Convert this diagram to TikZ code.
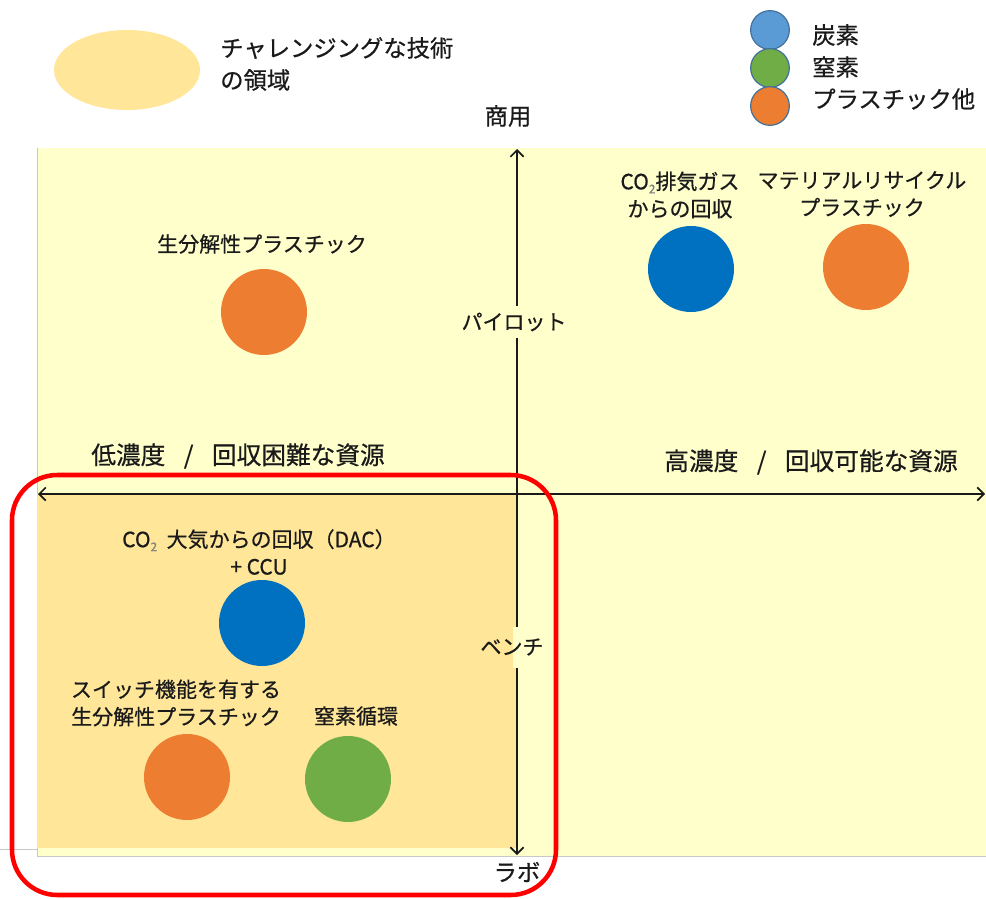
\documentclass[tikz,border=0pt]{standalone}
\usepackage{fontspec}
\setmainfont{Noto Sans CJK JP}[FakeBold=0.6]
\usetikzlibrary{arrows.meta,shapes.geometric}
\definecolor{bgyel}{HTML}{FFFFCC}
\definecolor{chal}{HTML}{FFE699}
\definecolor{cblue}{HTML}{0070C0}
\definecolor{lblue}{HTML}{5B9BD5}
\definecolor{corange}{HTML}{ED7D31}
\definecolor{cgreen}{HTML}{70AD47}
\definecolor{lborder}{HTML}{41719C}
\definecolor{txt}{HTML}{1A1A1A}
\definecolor{edgegray}{HTML}{C8C8C8}
\newcommand\mysubtwo{\raisebox{-0.35ex}{\fontsize{9pt}{9pt}\selectfont\color{gray}2}}
\newcommand\myslash{\hspace{0.75em}/\hspace{0.75em}}
\begin{document}
\begin{tikzpicture}[x=0.75pt,y=-0.75pt,
  lbl/.style={font=\fontsize{15.75pt}{20.5pt}\selectfont, text=txt, align=center, inner sep=0pt},
  midlbl/.style={font=\fontsize{17.5pt}{21pt}\selectfont, text=txt, align=center, inner sep=0pt},
  biglbl/.style={font=\fontsize{18.5pt}{22pt}\selectfont, text=txt, align=center, inner sep=0pt},
  leglbl/.style={font=\fontsize{17.5pt}{24pt}\selectfont, text=txt, align=left, inner sep=0pt, anchor=west},
  dot/.style={circle, minimum size=64.5pt, inner sep=0pt},
  ldot/.style={circle, minimum size=29pt, draw=lborder, line width=0.9pt, inner sep=0pt},
  axisline/.style={line width=1.3pt, draw=txt, {Straight Barb[length=5pt,width=10pt,line width=1.2pt]}-{Straight Barb[length=5pt,width=10pt,line width=1.2pt]}}
]
\useasboundingbox (0,0) rectangle (986,899);
\fill[white] (0,0) rectangle (986,899);
% plot background
\fill[bgyel] (37,148) rectangle (986,856);
\draw[edgegray, line width=0.6pt] (37,148) -- (37,856) -- (986,856);
\draw[edgegray, line width=0.6pt] (0,849) -- (37,849);
\fill[chal] (37,494) rectangle (517,848);
% axes
\coordinate (ytop) at (517,149);
\coordinate (ybot) at (517,855);
\coordinate (xleft) at (38,494);
\coordinate (xright) at (985,494);
\draw[axisline] (ybot) -- (ytop);
\draw[axisline] (xleft) -- (xright);
% axis labels
\node[midlbl] (shoyo) at (508,116) {商用};
\node[lbl, fill=bgyel, inner ysep=5pt, inner xsep=2pt] (pilot) at (514,322) {パイロット};
\fill[bgyel] (513,627) rectangle (550,668);
\node[lbl] (bench) at (512,647) {ベンチ};
\node[midlbl] (labo) at (517,872) {ラボ};
\node[biglbl] (low) at (238,456) {低濃度\myslash 回収困難な資源};
\node[biglbl] (high) at (811,462) {高濃度\myslash 回収可能な資源};
% red challenge frame
\draw[red, line width=3.4pt, rounded corners=34pt] (12,475) rectangle (556,895);
% items
\node[lbl] (biolbl) at (262,244) {生分解性プラスチック};
\node[dot, fill=corange] (bio) at (264,312) {};
\node[lbl] (exhlbl) at (680,195) {CO\mysubtwo 排気ガス\\からの回収};
\node[dot, fill=cblue] (exh) at (691,269) {};
\node[lbl] (matlbl) at (862,194) {マテリアルリサイクル\\プラスチック};
\node[dot, fill=corange] (mat) at (866,267) {};
\node[lbl] (daclbl) at (259,552) {CO\mysubtwo\ \ 大気からの回収（DAC）\\+ CCU};
\node[dot, fill=cblue] (dac) at (262,623) {};
\node[lbl] (swlbl) at (176,703) {スイッチ機能を有する\\生分解性プラスチック};
\node[dot, fill=corange] (sw) at (187,777) {};
\node[lbl] (nlbl) at (356,716) {窒素循環};
\node[dot, fill=cgreen] (nit) at (348,779) {};
% legend
\node[ellipse, fill=chal, minimum width=109.5pt, minimum height=60pt, inner sep=0pt] (legell) at (127,70) {};
\node[leglbl] (legtxt) at (220,64) {チャレンジングな技術\\の領域};
\node[ldot, fill=lblue] (lc) at (770,30) {};
\node[ldot, fill=cgreen] (ln) at (770,68) {};
\node[ldot, fill=corange] (lp) at (770,106) {};
\node[leglbl] (lctxt) at (812,35) {炭素};
\node[leglbl] (lntxt) at (812,67) {窒素};
\node[leglbl] (lptxt) at (812,99) {プラスチック他};
\end{tikzpicture}
\end{document}
